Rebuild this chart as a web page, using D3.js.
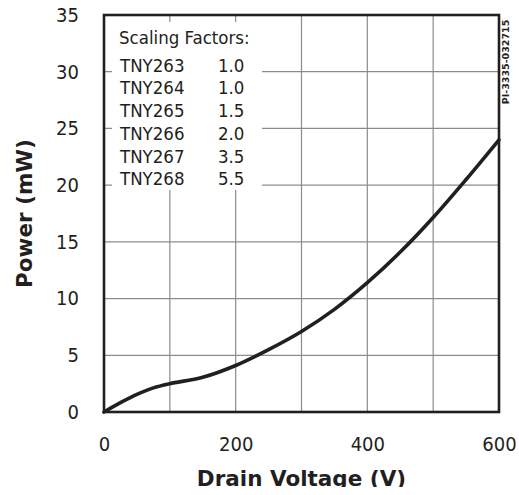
<!DOCTYPE html>
<html>
<head>
<meta charset="utf-8">
<script src="https://cdn.jsdelivr.net/npm/d3@7"></script>
<style>
  body { margin: 0; background: #fff; }
  svg { display: block; }
  .tick text { font-family: 'DejaVu Sans Condensed', 'DejaVu Sans', sans-serif; font-stretch: condensed; font-size: 20px; fill: #231f20; }
  .legend text { font-family: 'DejaVu Sans Condensed', 'DejaVu Sans', sans-serif; font-stretch: condensed; font-size: 18.5px; fill: #231f20; }
  .axis-title { font-family: 'DejaVu Sans', sans-serif; font-weight: bold; font-size: 21.5px; fill: #231f20; }
  .grid { stroke: #8c8c8c; stroke-width: 1.2; }
</style>
</head>
<body>
<div id="chart"></div>
<script>
// Drain voltage (V) vs power (mW)
const voltage = [0, 25, 50, 75, 100, 150, 200, 250, 300, 350, 400, 450, 500, 550, 600];
const power   = [0, 0.82, 1.55, 2.13, 2.5, 3.06, 4.1, 5.5, 7.1, 9.05, 11.4, 14.1, 17.15, 20.5, 24.0];

const xTicks = [0, 200, 400, 600];
const yTicks = [0, 5, 10, 15, 20, 25, 30, 35];
const xGrid = [100, 200, 300, 400, 500];
const yGrid = [5, 10, 15, 20, 25, 30];

const partNames = ['TNY263', 'TNY264', 'TNY265', 'TNY266', 'TNY267', 'TNY268'];
const scaleFactors = ['1.0', '1.0', '1.5', '2.0', '3.5', '5.5'];
const legendTitle = 'Scaling Factors:';
const figureId = 'PI-3335-032715';

const W = 519, H = 495;
const margin = {top: 15, right: 20, bottom: 83, left: 104};
const width = W - margin.left - margin.right,
      height = H - margin.top - margin.bottom;

const x = d3.scaleLinear().domain([0, 600]).range([0, width]);
const y = d3.scaleLinear().domain([0, 35]).range([height, 0]);

const svgRoot = d3.select('#chart').append('svg')
    .attr('width', W)
    .attr('height', H);
const svg = svgRoot.append('g')
    .attr('transform', `translate(${margin.left},${margin.top})`);

// gridlines
svg.selectAll('line.vgrid')
  .data(xGrid)
  .enter().append('line')
    .attr('class', 'grid')
    .attr('x1', d => x(d)).attr('x2', d => x(d))
    .attr('y1', 0).attr('y2', height);
svg.selectAll('line.hgrid')
  .data(yGrid)
  .enter().append('line')
    .attr('class', 'grid')
    .attr('x1', 0).attr('x2', width)
    .attr('y1', d => y(d)).attr('y2', d => y(d));

// white box behind the legend
svg.append('rect')
    .attr('x', 8).attr('y', 7)
    .attr('width', 150).attr('height', 168)
    .attr('fill', '#fff');

// axes (labels only)
svg.append('g')
    .attr('transform', `translate(0,${height})`)
    .call(d3.axisBottom(x).tickValues(xTicks).tickSize(0).tickPadding(25));
svg.append('g')
    .call(d3.axisLeft(y).tickValues(yTicks).tickSize(0).tickPadding(25));
svg.selectAll('.domain').remove();

// frame
svg.append('rect')
    .attr('width', width).attr('height', height)
    .attr('fill', 'none')
    .attr('stroke', '#231f20')
    .attr('stroke-width', 2.6);

// curve
const line = d3.line()
    .curve(d3.curveCatmullRom.alpha(0.5))
    .x((d, i) => x(voltage[i]))
    .y(d => y(d));
svg.append('path')
    .attr('d', line(power))
    .attr('fill', 'none')
    .attr('stroke', '#231f20')
    .attr('stroke-width', 3.6)
    .attr('stroke-linecap', 'round');

// legend
const legend = svg.append('g').attr('class', 'legend');
legend.append('text')
    .attr('x', 15).attr('y', 28.5)
    .text(legendTitle);
legend.selectAll('text.name')
  .data(partNames)
  .enter().append('text')
    .attr('class', 'name')
    .attr('x', 16)
    .attr('y', (d, i) => 56.7 + i * 22.7)
    .text(d => d);
legend.selectAll('text.val')
  .data(scaleFactors)
  .enter().append('text')
    .attr('class', 'val')
    .attr('x', 114)
    .attr('y', (d, i) => 56.7 + i * 22.7)
    .text(d => d);

// axis titles
svg.append('text')
    .attr('class', 'axis-title')
    .attr('text-anchor', 'middle')
    .attr('x', width / 2)
    .attr('y', height + 74)
    .text('Drain Voltage (V)');
svg.append('text')
    .attr('class', 'axis-title')
    .attr('text-anchor', 'middle')
    .attr('transform', `translate(${32 - margin.left},${height / 2}) rotate(-90)`)
    .text('Power (mW)');

// figure id along the right edge
svgRoot.append('text')
    .attr('transform', `translate(509,62) rotate(-90)`)
    .attr('text-anchor', 'middle')
    .attr('font-family', 'DejaVu Sans, sans-serif')
    .attr('font-weight', 'bold')
    .attr('font-size', '9.5px')
    .attr('fill', '#231f20')
    .text(figureId);

// the source picture is cut off near the bottom
svgRoot.append('rect')
    .attr('x', 0).attr('y', 487)
    .attr('width', W).attr('height', H - 487)
    .attr('fill', '#fff');
</script>
</body>
</html>
